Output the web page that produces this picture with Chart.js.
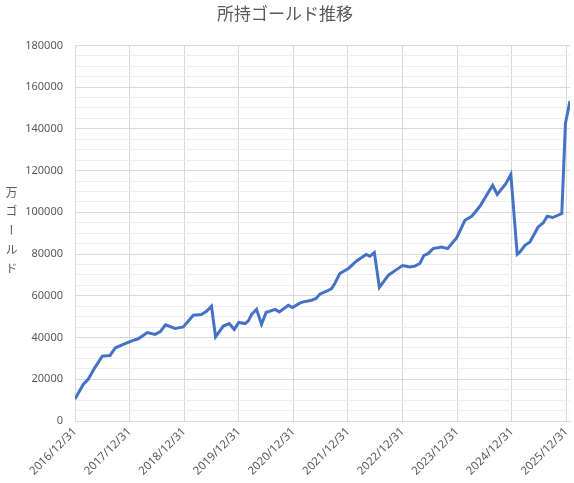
<!DOCTYPE html>
<html>
<head>
<meta charset="utf-8">
<script src="https://cdn.jsdelivr.net/npm/chart.js@4/dist/chart.umd.min.js"></script>
<style>
  body { margin: 0; background: #fff; }
  #wrap { position: relative; width: 574px; height: 483px; }
  #yLabel {
    position: absolute; left: 3px; top: 186px;
    writing-mode: vertical-rl;
    font: 12px "Noto Sans CJK JP", sans-serif;
    letter-spacing: 7px;
    color: #595959;
  }
</style>
</head>
<body>
<div id="wrap">
  <canvas id="goldChart" width="574" height="483"></canvas>
  <div id="yLabel">万ゴールド</div>
</div>
<script>
// months after 2016/12/31
const months = [0, 1.8, 2.9, 4.4, 6.0, 7.7, 8.9, 10.6, 12.5, 13.9, 15.9, 17.6, 18.7, 19.9, 22.0, 23.8,
  26.0, 27.8, 28.9, 30.0, 30.9, 32.6, 33.9, 35.0, 36.0, 37.4, 38.1, 38.8, 39.9, 41.0, 42.0, 44.0,
  44.9, 46.9, 47.8, 49.5, 50.2, 52.0, 53.0, 53.8, 55.3, 56.4, 57.1, 58.2, 60.1, 61.9, 64.0, 64.8,
  65.8, 66.9, 68.9, 70.5, 72.0, 73.6, 74.7, 75.8, 76.7, 77.6, 78.7, 80.6, 81.9, 83.9, 85.7, 87.2,
  89.0, 90.8, 91.8, 92.8, 94.7, 95.8, 97.2, 97.8, 98.9, 100.0, 101.8, 102.9, 103.8, 105.0, 107.0,
  107.8, 108.8];
const gold = [10500, 17500, 20000, 25700, 31100, 31400, 35100, 36700, 38400, 39400, 42400, 41500, 42700, 46100, 44400, 45100,
  50700, 51000, 52600, 55000, 40300, 45500, 46700, 43900, 47200, 46700, 48000, 51000, 53500, 46300, 52000, 53500,
  52300, 55500, 54400, 56600, 57100, 57900, 58700, 60800, 62200, 63500, 65900, 70700, 73100, 76700, 79800, 79000,
  80700, 64000, 69900, 72300, 74500, 73800, 74200, 75500, 79400, 80200, 82600, 83400, 82600, 87900, 96200, 98100,
  102900, 109400, 112900, 108600, 113700, 118200, 79900, 81000, 84200, 85800, 93000, 94900, 98100, 97500, 99400,
  142700, 153300];
const yearLabels = ["2016/12/31", "2017/12/31", "2018/12/31", "2019/12/31", "2020/12/31",
  "2021/12/31", "2022/12/31", "2023/12/31", "2024/12/31", "2025/12/31"];

const points = months.map((m, i) => ({ x: m, y: gold[i] }));

new Chart(document.getElementById("goldChart"), {
  type: "line",
  data: {
    datasets: [{
      data: points,
      borderColor: "#4472C4",
      borderWidth: 3,
      pointRadius: 0,
      tension: 0,
    }],
  },
  options: {
    responsive: false,
    animation: false,
    layout: { padding: { left: 0, right: 4, top: 0, bottom: 0 } },
    plugins: {
      legend: { display: false },
      tooltip: { enabled: false },
      title: {
        display: true,
        text: "所持ゴールド推移",
        color: "#595959",
        font: { family: "'Noto Sans CJK JP'", size: 17, weight: "normal" },
        padding: { top: 3, bottom: 22 },
      },
    },
    scales: {
      x: {
        type: "linear",
        min: 0,
        max: months[months.length - 1],
        afterBuildTicks: (axis) => {
          axis.ticks = yearLabels.map((_, i) => ({ value: i * 12 }));
        },
        afterFit: (axis) => {
          axis.height = 62;
          axis.paddingRight = 0;
        },
        ticks: {
          autoSkip: false,
          maxRotation: 45,
          minRotation: 45,
          padding: 4,
          color: "#595959",
          font: { family: "'Noto Sans'", size: 11.5 },
          callback: (v) => yearLabels[v / 12],
        },
        grid: { color: "#d9d9d9", drawTicks: false },
        border: { color: "#d9d9d9" },
      },
      y: {
        min: 0,
        max: 180000,
        afterFit: (axis) => { axis.width = 75; },
        ticks: {
          stepSize: 5000,
          autoSkip: false,
          padding: 12,
          color: "#595959",
          font: { family: "'Noto Sans'", size: 11 },
          callback: (v) => (v % 20000 === 0 ? v : ""),
        },
        grid: {
          drawTicks: false,
          color: (ctx) => (ctx.tick && ctx.tick.value % 20000 === 0 ? "#d9d9d9" : "#eeeeee"),
        },
        border: { color: "#d9d9d9" },
      },
    },
  },
});
</script>
</body>
</html>
